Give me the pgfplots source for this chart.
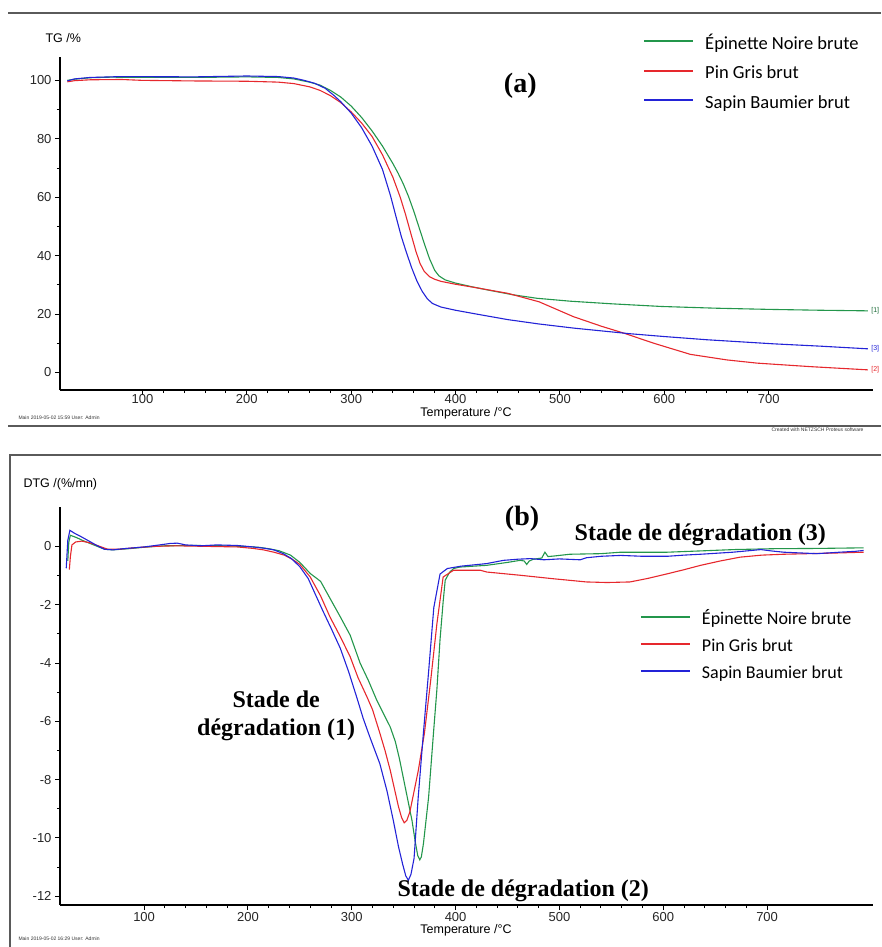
\documentclass[border=0pt]{standalone}
\usepackage{pgfplots}
\pgfplotsset{compat=1.18}
\usepackage{fontspec}
\setmainfont{Liberation Sans}
\newfontfamily\legfont{Carlito}
\newfontfamily\annfont{Liberation Serif}

\definecolor{cGreen}{RGB}{35,150,75}
\definecolor{cRed}{RGB}{230,40,45}
\definecolor{cBlue}{RGB}{35,35,215}
\definecolor{cFrame}{RGB}{90,90,90}

\pgfplotsset{
  thermo/.style={
    scale only axis,
    width=813pt,
    axis x line=bottom, axis y line=left,
    axis line style={-, line width=1.3pt, black},
    tick align=outside,
    major tick length=5pt, minor tick length=3pt,
    every tick/.style={black, line width=1pt},
    minor x tick num=4,
    minor y tick num=1,
    xtick={100,200,...,700},
    tick label style={font=\fontsize{13}{14}\selectfont, text=black!85},
    /pgf/number format/assume math mode=true,
    clip mode=individual,
    legend cell align=left,
    legend image code/.code={%
      \draw[##1, line width=2.2pt] (0pt,4pt) -- (49pt,4pt);
      \path[draw=none, fill=none] (0pt,4pt) -- (61pt,4pt);},
    every axis plot/.append style={line width=1.1pt},
  },
}

\begin{document}
\begin{tikzpicture}
\useasboundingbox (0pt,0pt) rectangle (881pt,-947pt);

% ---------- (a) TG ----------
\draw[cFrame, line width=1.3pt] (8pt,-13pt) -- (881pt,-13pt);
\draw[cFrame, line width=1.3pt] (8pt,-426pt) -- (881pt,-426pt);

\begin{axis}[
    thermo,
    at={(60pt,-390pt)}, anchor=south west,
    height=333pt,
    xmin=21, xmax=800,
    ymin=-6, ymax=108,
    ytick={0,20,...,100},
    xticklabel style={yshift=4pt},
    legend style={
        at={(rel axis cs:0.717,1.060)}, anchor=north west,
        draw=none, fill=none,
        font=\fontsize{18.5}{20}\selectfont\legfont,
        row sep=13.5pt, inner sep=0pt,
        nodes={inner sep=0pt, text height=12pt, text depth=4pt},
    },
]
% Epinette Noire brute
\addplot[cGreen] coordinates {
 (28,100) (35,100.4) (50,100.9) (70,101.1) (100,101) (150,101) (200,101.2)
 (230,101) (245,100.5) (260,99.4) (270,98.4) (280,96.6) (290,94.3) (300,91.2)
 (310,87.3) (320,82.7) (330,77.5) (340,71.5) (345,68.2) (350,64.5) (355,60.2)
 (360,55.2) (365,49.7) (370,44.2) (375,39) (380,35) (384,33.1) (390,31.7)
 (400,30.6) (415,29.4) (430,28.3) (455,26.6) (478,25.4) (510,24.4) (550,23.5)
 (597,22.6) (650,22) (700,21.6) (750,21.3) (795,21.1)
};
\addlegendentry{Épinette Noire brute}
% Pin Gris brut
\addplot[cRed] coordinates {
 (28,99.5) (35,99.9) (50,100.2) (80,100.3) (100,100) (150,99.8) (200,99.7)
 (230,99.4) (245,98.9) (260,97.8) (270,96.6) (280,94.8) (290,92.4) (300,89.2)
 (310,85.4) (320,80.8) (330,74.5) (340,66.8) (347,60) (352,54.2) (357,47.8)
 (362,41.5) (366,37.3) (370,34.6) (375,32.8) (380,31.9) (386,31.2) (400,30.2)
 (420,29) (450,27.1) (480,24.2) (513,19.1) (540,15.8) (561,13.5) (590,10)
 (625,6.2) (660,4.3) (689,3.2) (740,2) (795,0.9)
};
\addlegendentry{Pin Gris brut}
% Sapin Baumier brut
\addplot[cBlue] coordinates {
 (28,99.8) (35,100.5) (50,101) (80,101.3) (150,101.2) (200,101.5) (230,101.3)
 (245,100.8) (255,100) (265,99) (275,97.3) (283,95) (290,92.7) (300,88.8)
 (310,83.8) (320,77.5) (330,69.5) (337.7,60.5) (343,53.3) (348,46.6) (353,41)
 (358,35.8) (363,31.3) (368,27.8) (373,25.2) (378,23.6) (386,22.4) (400,21.3)
 (420,20) (450,18.1) (480,16.6) (513,15.2) (566,13.3) (600,12.3) (641,11.2)
 (705,9.8) (750,9) (795,8.1)
};
\addlegendentry{Sapin Baumier brut}

\node[font=\fontsize{28}{30}\selectfont\annfont\bfseries, anchor=base] at (axis cs:462,96) {(a)};
\node[font=\fontsize{7}{8}\selectfont, text=cGreen!70!black, anchor=west] at (axis cs:795,21.1) {[1]};
\node[font=\fontsize{7}{8}\selectfont, text=cBlue, anchor=west] at (axis cs:795,8.1) {[3]};
\node[font=\fontsize{7}{8}\selectfont, text=cRed, anchor=west] at (axis cs:795,0.9) {[2]};
\end{axis}

\node[anchor=west, font=\fontsize{12.5}{14}\selectfont] at (42pt,-38pt) {TG /\%};
\node[anchor=base, font=\fontsize{12.5}{14}\selectfont] at (466pt,-416pt) {Temperature /°C};
\node[anchor=west, font=\fontsize{5}{6}\selectfont, text=black!80] at (15pt,-418pt) {Main 2019-05-02 15:59 User: Admin};
\node[anchor=west, font=\fontsize{5}{6}\selectfont, text=black!80] at (768pt,-430pt) {Created with NETZSCH Proteus software};

% ---------- (b) DTG ----------
\draw[cFrame, line width=1.3pt] (881pt,-455pt) -- (10pt,-455pt) -- (10pt,-947pt);

\begin{axis}[
    thermo,
    at={(60pt,-905pt)}, anchor=south west,
    height=398pt,
    xmin=19, xmax=802,
    ymin=-12.3, ymax=1.35,
    ytick={-12,-10,...,0},
    xticklabel style={yshift=1pt},
    legend style={
        at={(rel axis cs:0.713,0.735)}, anchor=north west,
        draw=none, fill=none,
        font=\fontsize{18}{20}\selectfont\legfont,
        row sep=11pt, inner sep=0pt,
        nodes={inner sep=0pt, text height=12pt, text depth=4pt},
    },
]
% Epinette Noire brute
\addplot[cGreen] coordinates {
 (26.5,-0.5) (27.5,0.15) (29,0.38) (35,0.3) (41,0.2) (48,0.1) (55,0.0)
 (62,-0.1) (70,-0.12) (85,-0.08) (100,-0.03) (120,0.02) (150,0.03) (175,0.02)
 (195,0.0) (210,-0.03) (220,-0.08) (230,-0.15) (241,-0.3) (250,-0.55)
 (260,-0.93) (270,-1.2) (279,-1.78) (289,-2.42) (298.5,-3.05) (308,-4.0)
 (316,-4.6) (324,-5.27) (330,-5.7) (337,-6.19) (342,-6.7) (346,-7.3) (350,-8.0)
 (354,-8.7) (358,-9.4) (361,-10.1) (363.5,-10.6) (365.5,-10.75) (367,-10.65)
 (369,-10.2) (374,-8.6) (378.7,-6.4) (382,-4.9) (385,-3.2) (388,-1.9)
 (390,-1.16) (394,-0.9) (398,-0.76) (404,-0.71) (430,-0.65) (450,-0.55)
 (462,-0.48) (466,-0.5) (468.5,-0.62) (471,-0.5) (475,-0.44) (483,-0.4)
 (486,-0.2) (489,-0.35) (495,-0.33) (510,-0.27) (540,-0.25) (559,-0.2)
 (604,-0.2) (640,-0.15) (668,-0.11) (706,-0.08) (750,-0.07) (793,-0.05)
};
\addlegendentry{Épinette Noire brute}
% Pin Gris brut
\addplot[cRed] coordinates {
 (28,-0.8) (29,-0.35) (30.5,0.05) (34,0.15) (40,0.18) (48,0.12) (55,0.03)
 (65,-0.1) (75,-0.1) (90,-0.05) (110,0.0) (130,0.02) (160,0.0) (190,-0.02)
 (205,-0.07) (215,-0.12) (225,-0.2) (235,-0.3) (243,-0.45) (250,-0.62)
 (260,-1.05) (270,-1.7) (279,-2.42) (289,-3.1) (298.5,-3.79) (306,-4.5)
 (314.6,-5.16) (320,-5.6) (327,-6.4) (332,-7.0) (337,-7.67) (341,-8.3)
 (345,-8.93) (348,-9.3) (350.5,-9.48) (353,-9.4) (356,-9.1) (360,-8.4)
 (364,-7.7) (370,-6.4) (376,-4.6) (382,-2.65) (388,-1.05) (398,-0.82)
 (424,-0.82) (430,-0.88) (462,-0.99) (494,-1.11) (526,-1.22) (546,-1.24)
 (568,-1.22) (585,-1.1) (604,-0.94) (620,-0.8) (636,-0.65) (655,-0.5)
 (674,-0.37) (695,-0.3) (716,-0.27) (740,-0.25) (764,-0.23) (793,-0.2)
};
\addlegendentry{Pin Gris brut}
% Sapin Baumier brut
\addplot[cBlue] coordinates {
 (25,-0.75) (26.5,0.2) (28.5,0.55) (33,0.45) (40,0.32) (47,0.18) (55,0.02)
 (62,-0.1) (70,-0.12) (80,-0.08) (100,-0.02) (115,0.05) (125,0.1) (132,0.11)
 (140,0.05) (155,0.02) (170,0.05) (190,0.03) (205,-0.02) (215,-0.06)
 (225,-0.12) (234,-0.25) (242,-0.42) (250,-0.7) (258,-1.1) (265,-1.65)
 (272,-2.2) (280,-2.8) (289,-3.5) (297,-4.3) (305,-5.2) (311,-5.9) (317,-6.5)
 (327,-7.45) (334,-8.4) (340,-9.4) (345,-10.3) (349,-10.9) (352,-11.3)
 (354.5,-11.45) (357,-11.25) (360,-10.7) (364,-8.6) (369,-6.4) (374,-4.3)
 (379,-2.1) (385,-0.95) (392,-0.76) (405,-0.68) (430,-0.59) (446,-0.48)
 (460,-0.44) (472,-0.42) (485,-0.46) (500,-0.43) (520,-0.46) (526,-0.39)
 (540,-0.34) (559,-0.31) (580,-0.34) (604,-0.34) (620,-0.3) (636,-0.27)
 (667,-0.2) (694,-0.11) (705,-0.16) (716,-0.2) (735,-0.23) (748,-0.25)
 (770,-0.2) (785,-0.17) (793,-0.14)
};
\addlegendentry{Sapin Baumier brut}

\node[font=\fontsize{28}{30}\selectfont\annfont\bfseries, anchor=base] at (axis cs:464,0.72) {(b)};
\node[font=\fontsize{24}{26}\selectfont\annfont\bfseries, anchor=base] at (axis cs:635.7,0.205) {Stade de dégradation (3)};
\node[font=\fontsize{24}{26}\selectfont\annfont\bfseries, anchor=base] at (axis cs:227.2,-5.51) {Stade de};
\node[font=\fontsize{24}{26}\selectfont\annfont\bfseries, anchor=base] at (axis cs:227.2,-6.47) {dégradation (1)};
\node[font=\fontsize{24}{26}\selectfont\annfont\bfseries, anchor=base] at (axis cs:465.2,-12.02) {Stade de dégradation (2)};
\end{axis}

\node[anchor=west, font=\fontsize{12.5}{14}\selectfont] at (20pt,-484pt) {DTG /(\%/mn)};
\node[anchor=base, font=\fontsize{12.5}{14}\selectfont] at (466pt,-933pt) {Temperature /°C};
\node[anchor=west, font=\fontsize{5}{6}\selectfont, text=black!80] at (15pt,-939pt) {Main 2019-05-02 16:29 User: Admin};
\end{tikzpicture}
\end{document}
